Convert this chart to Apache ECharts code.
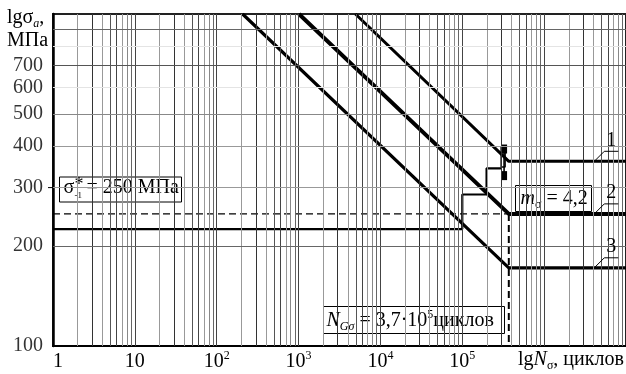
<!DOCTYPE html>
<html>
<head>
<meta charset="utf-8">
<script src="https://cdn.jsdelivr.net/npm/echarts@6.0.0/dist/echarts.min.js"></script>
<style>
html,body{margin:0;padding:0;background:#fff;}
#chart{width:626px;height:374px;}
</style>
</head>
<body>
<div id="chart"></div>
<script>
// ---------- data ----------
const xTickLabels = ['1', '10', '10^2', '10^3', '10^4', '10^5'];
const yTickValues = [100, 200, 300, 400, 500, 600, 700];
const xDecades = [1, 10, 100, 1000, 10000, 100000, 1000000];
const xMinorMultipliers = [2, 3, 4, 5, 6, 7, 8, 9];
const yGridValues = [200, 300, 400, 500, 600, 700, 800, 900];

const curve1 = [[4950, 1000], [370000, 360], [10000000, 360]];
const curve2 = [[1010, 1000], [370000, 250], [10000000, 250]];
const curve3 = [[207, 1000], [370000, 172], [10000000, 172]];
const stepLine = [[1, 225], [100000, 225], [100000, 286], [198000, 286], [198000, 343], [298000, 343]];
const arrowBox = [[298000, 400], [334000, 400], [334000, 346], [298000, 346], [298000, 400]];
const arrowShaft = [[324000, 392], [324000, 326]];
const sigmaLimit = 250;
const NG = 370000;
const yMin = 100, yMax = 1000;
const xMin = 1, xMax = 10000000;
const curveLabelN = 4100000;
const curveLabelLevels = [360, 250, 172];
const curveLabelTexts = ['1', '2', '3'];
const yOuterTicks = [300];

// ---------- styles ----------
const FONT = 'Liberation Serif';
const minorShades = ['#999', '#333', '#999', '#555', '#444', '#999', '#888', '#666'];
const decadeShade = '#444';
const hShades = ['#666', '#999', '#999', '#888', '#e4e4e4', '#555', '#e4e4e4', '#666'];

const chart = echarts.init(document.getElementById('chart'), null, {renderer: 'canvas'});

function richLabel(s) {
  const m = s.split('^');
  return m.length === 2 ? '{b|' + m[0] + '}{p|' + m[1] + '}' : '{b|' + s + '}';
}

const vGrid = [];
xDecades.forEach((d, i) => {
  xMinorMultipliers.forEach((k, j) => {
    vGrid.push({xAxis: d * k, lineStyle: {color: minorShades[j], width: 1, type: 'solid'}});
  });
  if (i > 0) vGrid.push({xAxis: d, lineStyle: {color: decadeShade, width: 1, type: 'solid'}});
});
const hGrid = yGridValues.map((v, i) => ({yAxis: v, lineStyle: {color: hShades[i], width: 1, type: 'solid'}}));

const R = {
  t: {fontFamily: FONT, fontSize: 20, lineHeight: 24, color: '#000', fill: '#000'},
  i: {fontFamily: FONT, fontSize: 20, fontStyle: 'italic', lineHeight: 24, color: '#000', fill: '#000'},
  s: {fontFamily: FONT, fontSize: 12, lineHeight: 11, verticalAlign: 'bottom', color: '#000', fill: '#000'},
  si: {fontFamily: FONT, fontSize: 12, fontStyle: 'italic', lineHeight: 11, verticalAlign: 'bottom', color: '#000', fill: '#000'},
  p: {fontFamily: FONT, fontSize: 12, lineHeight: 12, verticalAlign: 'top', color: '#000', fill: '#000'}
};

function lineSeries(data, width, extra) {
  return Object.assign({
    type: 'line', data: data, symbol: 'none', silent: true, z: 3,
    lineStyle: {color: '#000', width: width}
  }, extra || {});
}

chart.setOption({
  animation: false,
  backgroundColor: '#fff',
  grid: {left: 53, right: -2, top: 14, bottom: 28, show: true, borderColor: '#222', borderWidth: 2, backgroundColor: 'transparent'},
  xAxis: {
    type: 'log', logBase: 10, min: xMin, max: xMax, splitNumber: 7,
    axisLine: {show: true, lineStyle: {color: '#000', width: 2}},
    axisTick: {show: false}, splitLine: {show: false},
    axisLabel: {
      margin: 4, hideOverlap: false, showMaxLabel: false, alignMinLabel: 'left',
      formatter: v => { const e = Math.round(Math.log10(v)); return xTickLabels[e] ? richLabel(xTickLabels[e]) : ''; },
      rich: {
        b: {fontFamily: FONT, fontSize: 20, lineHeight: 24, color: '#000'},
        p: {fontFamily: FONT, fontSize: 12, lineHeight: 12, verticalAlign: 'top', color: '#000'}
      }
    }
  },
  yAxis: {
    type: 'log', logBase: 10, min: yMin, max: yMax,
    axisLine: {show: true, lineStyle: {color: '#000', width: 2.5}},
    axisTick: {show: false}, splitLine: {show: false}, axisLabel: {show: false}
  },
  series: [
    {type: 'line', data: [], z: 1, silent: true, symbol: 'none',
     markLine: {silent: true, symbol: ['none', 'none'], label: {show: false}, animation: false, data: vGrid.concat(hGrid)}},
    lineSeries([[xMin, sigmaLimit], [NG, sigmaLimit]], 1.3, {z: 2, lineStyle: {color: '#000', width: 1.3, type: [7, 4]}}),
    lineSeries([[NG, sigmaLimit], [NG, yMin]], 2, {z: 2, lineStyle: {color: '#000', width: 2, type: [7, 4]}}),
    lineSeries(stepLine, 2.2),
    lineSeries(arrowBox, 1.4),
    lineSeries(arrowShaft, 1.6, {symbol: ['none', 'arrow'], symbolSize: [6, 9], itemStyle: {color: '#000'}}),
    lineSeries(curve1, 3),
    lineSeries(curve2, 4),
    lineSeries(curve3, 3.2),
    {type: 'scatter', data: yTickValues.map(v => [xMin, v]), symbolSize: 0, clip: false, silent: true, z: 5,
     label: {show: true, position: 'left', distance: 10, formatter: p => String(p.value[1]),
             fontFamily: FONT, fontSize: 20, color: '#000'}}
  ]
});

// annotations
const g = [];
g.push({type: 'text', left: 7, top: 8, z: 10, style: {text: '{t|lgσ}{si|a}{t|,}', rich: R}});
g.push({type: 'text', left: 7, top: 31, z: 10, style: {text: '{t|МПа}', rich: R}});
g.push({type: 'text', left: 518, top: 350, z: 10, style: {text: '{t|lg}{i|N}{s|σ}{t|, циклов}', rich: R}});

// small outer ticks on the y axis
yOuterTicks.forEach(v => {
  const p = chart.convertToPixel({xAxisIndex: 0, yAxisIndex: 0}, [xMin, v]);
  g.push({type: 'line', z: 9, shape: {x1: p[0] - 5, y1: p[1], x2: p[0], y2: p[1]}, style: {stroke: '#000', lineWidth: 1}});
});

// box sigma*-1
g.push({type: 'group', left: 59, top: 176, z: 10, children: [
  {type: 'rect', shape: {x: 0, y: 0, width: 122, height: 25}, style: {fill: '#fff', stroke: '#000', lineWidth: 1}},
  {type: 'text', x: 4, y: 1, style: {text: 'σ', fontFamily: FONT, fontSize: 20, fill: '#000'}},
  {type: 'text', x: 15, y: -1, style: {text: '*', fontFamily: FONT, fontSize: 18, fill: '#000'}},
  {type: 'text', x: 15, y: 14, style: {text: '-1', fontFamily: FONT, fontSize: 9, fill: '#000'}},
  {type: 'text', x: 27, y: 1, style: {text: '= 250 МПа', fontFamily: FONT, fontSize: 20, fill: '#000'}}
]});
// box m
g.push({type: 'group', left: 515, top: 185, z: 10, children: [
  {type: 'rect', shape: {x: 0, y: 0, width: 76, height: 26}, style: {fill: '#fff', stroke: '#000', lineWidth: 1}},
  {type: 'text', x: 5, y: 1, style: {text: '{i|m}{s|σ}{t| = 4,2}', rich: R}}
]});
// box NG
g.push({type: 'group', left: 323, top: 306, z: 10, children: [
  {type: 'rect', shape: {x: 0, y: 0, width: 181, height: 27}, style: {fill: '#fff', stroke: '#000', lineWidth: 1}},
  {type: 'text', x: 3, y: 2, style: {text: '{i|N}{si|Gσ}{t| = 3,7·10}{p|5}{t|циклов}', rich: R}}
]});

// curve labels with leader lines (anchored to data)
curveLabelLevels.forEach((lv, i) => {
  const pt = chart.convertToPixel({xAxisIndex: 0, yAxisIndex: 0}, [curveLabelN, lv]);
  g.push({type: 'polyline', z: 10, shape: {points: [[pt[0], pt[1]], [pt[0] + 10, pt[1] - 10], [pt[0] + 24, pt[1] - 10]]},
          style: {stroke: '#000', lineWidth: 1, fill: null}});
  g.push({type: 'text', z: 10, x: pt[0] + 17, y: pt[1] - 21,
          style: {text: curveLabelTexts[i], fontFamily: FONT, fontSize: 20, fill: '#000', align: 'center', verticalAlign: 'middle'}});
});
chart.setOption({graphic: g});
</script>
</body>
</html>
